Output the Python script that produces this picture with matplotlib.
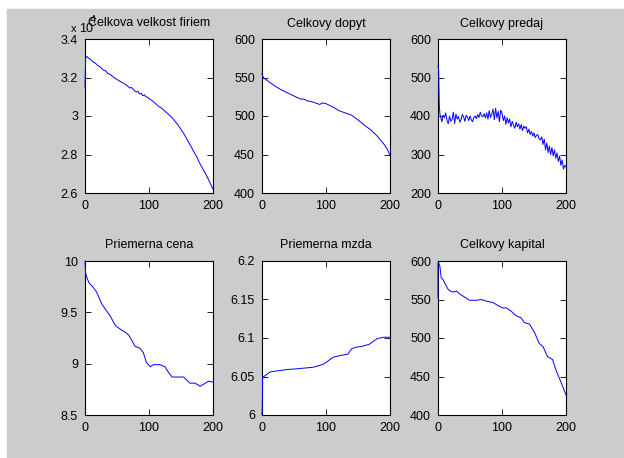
import numpy as np
import matplotlib
matplotlib.use("Agg")
import matplotlib.pyplot as plt
from matplotlib.patches import Rectangle

plt.rcParams['font.family'] = ['Liberation Sans', 'DejaVu Sans']

# celkova velkost firiem (x 10^4)
t_firmy = [0, 1, 2, 4, 6, 8, 10, 13, 16, 20, 24, 28, 32, 36, 40, 45, 50, 55, 60, 65,
           70, 73, 75, 78, 80, 83, 85, 88, 90, 93, 95, 98, 100, 105, 110, 115, 120, 125,
           130, 135, 140, 145, 150, 155, 160, 165, 170, 175, 180, 185, 190, 195, 200]
firmy = [3.15, 3.30, 3.31, 3.305, 3.30, 3.295, 3.29, 3.28, 3.275, 3.262, 3.255, 3.24,
         3.235, 3.22, 3.215, 3.20, 3.19, 3.18, 3.17, 3.16, 3.145, 3.148, 3.14, 3.13,
         3.125, 3.128, 3.115, 3.118, 3.105, 3.11, 3.10, 3.098, 3.09, 3.08, 3.065, 3.05,
         3.04, 3.025, 3.01, 2.995, 2.975, 2.955, 2.93, 2.905, 2.875, 2.845, 2.815, 2.785,
         2.75, 2.72, 2.69, 2.655, 2.62]

# celkovy dopyt
t_dopyt = [0, 2, 5, 10, 15, 20, 30, 40, 50, 60, 65, 70, 80, 90, 95, 100, 110, 120,
           130, 140, 150, 160, 170, 180, 185, 190, 195, 200]
dopyt = [555, 550, 548, 545, 542, 539, 534, 530, 526, 522, 522, 520, 518, 515, 517,
         516, 512, 507, 504, 501, 495, 488, 482, 474, 469, 464, 458, 449]

# celkovy predaj
t_predaj = [0, 1, 2, 3] + list(range(4, 201, 2))
predaj = [530, 520, 430, 405,
          398, 385, 402, 396, 408, 389, 380, 400, 386, 392, 410, 380, 405, 392, 399,
          384, 390, 404, 398, 386, 402, 397, 388, 400, 390, 385, 397, 400, 393,
          404, 396, 410, 400, 398, 406, 395, 408, 392, 414, 396, 405, 418, 390, 420,
          395, 412, 385, 415, 408,
          388, 400, 378, 396, 382, 392, 372, 386, 376, 368, 384, 372, 380, 366, 378,
          362, 374, 368, 372, 356,
          366, 352, 360, 348, 356, 344, 350, 352, 340, 338, 346, 326, 340, 312, 330,
          305, 322, 300, 318, 296,
          312, 290, 304, 282, 296, 272, 286, 262, 272, 268]

# priemerna cena
t_cena = [0, 1, 4, 7, 12, 18, 26, 33, 39, 47, 54, 62, 68, 73, 78, 86, 91, 96, 102,
          107, 117, 125, 130, 136, 149, 154, 159, 164, 172, 180, 188, 193, 200]
cena = [10.0, 9.88, 9.82, 9.78, 9.75, 9.70, 9.585, 9.52, 9.47, 9.375, 9.34, 9.31,
        9.28, 9.23, 9.17, 9.15, 9.11, 9.01, 8.97, 8.99, 8.99, 8.97, 8.92, 8.87, 8.87,
        8.87, 8.84, 8.81, 8.81, 8.78, 8.81, 8.83, 8.82]

# priemerna mzda
t_mzda = [0, 0.5, 1, 3, 8, 13, 21, 39, 54, 80, 88, 96, 103, 111, 121, 134, 140, 147,
          158, 168, 176, 181, 191, 200]
mzda = [6.0, 6.014, 6.049, 6.050, 6.053, 6.056, 6.057, 6.059, 6.060, 6.062, 6.064,
        6.066, 6.070, 6.075, 6.077, 6.079, 6.086, 6.088, 6.0895, 6.092, 6.097, 6.0995,
        6.101, 6.101]

# celkovy kapital
t_kapital = [0, 0, 1, 3, 4, 5, 8, 10, 16, 21, 26, 29, 34, 44, 49, 60, 68, 75, 86, 96,
             101, 107, 114, 122, 130, 135, 143, 151, 158, 164, 171, 179, 184, 192, 200]
kapital = [552, 598, 598, 593, 585, 578, 576, 572, 563, 560, 560, 561, 557, 552, 549,
           549, 550, 548, 546, 541, 539, 539, 535, 529, 526, 520, 518, 507, 493, 489,
           476, 472, 459, 443, 426]

titles = ['Celkova velkost firiem', 'Celkovy dopyt', 'Celkovy predaj',
          'Priemerna cena', 'Priemerna mzda', 'Celkovy kapital']
series = [(t_firmy, firmy), (t_dopyt, dopyt), (t_predaj, predaj),
          (t_cena, cena), (t_mzda, mzda), (t_kapital, kapital)]
ylims = [(2.6, 3.4), (400, 600), (200, 600), (8.5, 10), (6.0, 6.2), (400, 600)]
yticks = [[2.6, 2.8, 3.0, 3.2, 3.4], [400, 450, 500, 550, 600],
          [200, 300, 400, 500, 600], [8.5, 9, 9.5, 10],
          [6.0, 6.05, 6.1, 6.15, 6.2], [400, 450, 500, 550, 600]]
ylabels = [['2.6', '2.8', '3', '3.2', '3.4'], None, None,
           ['8.5', '9', '9.5', '10'], ['6', '6.05', '6.1', '6.15', '6.2'], None]

W, H = 624, 458
fig = plt.figure(figsize=(W / 100, H / 100), dpi=100, facecolor='white')
fig.patches.append(Rectangle((7 / W, 0), 1 - 7 / W, (H - 9) / H,
                             transform=fig.transFigure, color='#cccccc', zorder=-1))

lefts = [85, 262, 438]
tops = [39, 261]
for i in range(6):
    row, col = divmod(i, 3)
    l = lefts[col]
    t = tops[row]
    ax = fig.add_axes([l / W, 1 - (t + 154) / H, 128 / W, 154 / H])
    x, y = series[i]
    ax.plot(x, y, color='#0000ff', lw=0.7, zorder=3, clip_on=False)
    ax.set_xlim(0, 200)
    ax.set_ylim(*ylims[i])
    ax.set_xticks([0, 100, 200])
    ax.set_yticks(yticks[i])
    if ylabels[i] is not None:
        ax.set_yticklabels(ylabels[i])
    ax.tick_params(direction='in', top=True, right=True, length=4, width=0.6,
                   labelsize=9, pad=5)
    for sp in ax.spines.values():
        sp.set_linewidth(0.8)
    ax.set_title(titles[i], fontsize=9, pad=9)

# exponent of the first panel
fig.text(71 / W, 1 - 32 / H, 'x', fontsize=8, va='baseline')
fig.text(79 / W, 1 - 32 / H, '10', fontsize=9, va='baseline')
fig.text(90 / W, 1 - 23 / H, '4', fontsize=8, va='baseline')

fig.savefig('out.png', dpi=100, facecolor=fig.get_facecolor())
